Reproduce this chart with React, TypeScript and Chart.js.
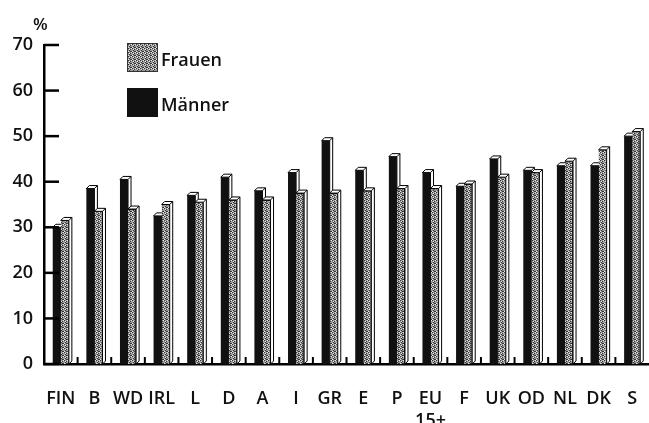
import React, { useEffect, useRef } from "react";
import { Chart, registerables } from "chart.js";

Chart.register(...registerables);

// ---- data ----
const categories: (string | string[])[] = [
  "FIN", "B", "WD", "IRL", "L", "D", "A", "I", "GR", "E", "P",
  ["EU", "15+"], "F", "UK", "OD", "NL", "DK", "S",
];
const maenner = [30, 38.5, 40.5, 32.5, 37, 41, 38, 42, 49, 42.5, 45.5, 42, 39, 45, 42.5, 43.5, 43.5, 50];
const frauen = [31.5, 33.5, 34, 35, 35.5, 36, 36, 37.5, 37.5, 38, 38.5, 38.5, 39.5, 41, 42, 44.5, 47, 51];
const yTicks = [0, 10, 20, 30, 40, 50, 60, 70];
const seriesNames = ["Männer", "Frauen"];
const unitLabel = "%";

const FONT = "'Open Sans', 'DejaVu Sans', sans-serif";
const WEIGHT = "600";
const DEPTH = 3;

function makePattern(): CanvasPattern | string {
  const c = document.createElement("canvas");
  c.width = 4;
  c.height = 4;
  const g = c.getContext("2d");
  if (!g) return "#999";
  g.fillStyle = "#9c9c9c";
  g.fillRect(0, 0, 4, 4);
  g.fillStyle = "#333";
  [[0, 0], [2, 1], [1, 2], [3, 3], [2, 3]].forEach(([x, y]) => g.fillRect(x, y, 1, 1));
  g.fillStyle = "#e6e6e6";
  [[3, 0], [1, 1], [0, 3]].forEach(([x, y]) => g.fillRect(x, y, 1, 1));
  return g.createPattern(c, "repeat") || "#999";
}

function draw3d(ctx: CanvasRenderingContext2D, el: any) {
  const { x, y, base, width } = el.getProps(["x", "y", "base", "width"], true);
  const l = x - width / 2;
  const r = x + width / 2;
  ctx.save();
  ctx.fillStyle = "#fff";
  ctx.strokeStyle = "#000";
  ctx.lineWidth = 1;
  ctx.beginPath();
  ctx.moveTo(l, y);
  ctx.lineTo(l + DEPTH, y - DEPTH);
  ctx.lineTo(r + DEPTH, y - DEPTH);
  ctx.lineTo(r + DEPTH, base - DEPTH);
  ctx.lineTo(r, base);
  ctx.lineTo(r, y);
  ctx.closePath();
  ctx.fill();
  ctx.stroke();
  ctx.beginPath();
  ctx.moveTo(r, y);
  ctx.lineTo(r + DEPTH, y - DEPTH);
  ctx.stroke();
  ctx.restore();
}

export default function App() {
  const ref = useRef<HTMLCanvasElement | null>(null);

  useEffect(() => {
    document.body.style.margin = "0";
    const canvas = ref.current;
    if (!canvas) return;
    const pattern = makePattern();

    const decor = {
      id: "decor",
      beforeDatasetsDraw(chart: any) {
        const ctx = chart.ctx;
        chart.getDatasetMeta(0).data.forEach((el: any) => draw3d(ctx, el));
      },
      afterDatasetsDraw(chart: any) {
        const ctx = chart.ctx as CanvasRenderingContext2D;
        chart.getDatasetMeta(1).data.forEach((el: any) => draw3d(ctx, el));
        const area = chart.chartArea;
        const ys = chart.scales.y;
        const xs = chart.scales.x;
        ctx.save();
        ctx.strokeStyle = "#000";
        ctx.lineWidth = 2.5;
        yTicks.forEach((v) => {
          const py = ys.getPixelForValue(v);
          ctx.beginPath();
          ctx.moveTo(area.left, py);
          ctx.lineTo(area.left + 15, py);
          ctx.stroke();
        });
        ctx.lineWidth = 2;
        for (let i = 0; i < categories.length - 1; i++) {
          const px = (xs.getPixelForValue(i) + xs.getPixelForValue(i + 1)) / 2;
          ctx.beginPath();
          ctx.moveTo(px, area.bottom);
          ctx.lineTo(px, area.bottom - 7);
          ctx.stroke();
        }
        ctx.restore();
      },
      afterDraw(chart: any) {
        const ctx = chart.ctx as CanvasRenderingContext2D;
        ctx.save();
        ctx.fillStyle = "#111";
        ctx.font = `${WEIGHT} 17px ${FONT}`;
        ctx.textBaseline = "alphabetic";
        ctx.fillText(unitLabel, 33, 30);
        // legend (Frauen first, then Männer)
        ctx.fillStyle = pattern as any;
        ctx.fillRect(127, 43, 31, 29);
        ctx.strokeStyle = "#333";
        ctx.lineWidth = 1;
        ctx.strokeRect(127.5, 43.5, 30, 28);
        ctx.fillStyle = "#111";
        ctx.fillRect(127, 88, 31, 29);
        ctx.font = `${WEIGHT} 18px ${FONT}`;
        ctx.fillStyle = "#111";
        ctx.fillText(seriesNames[1], 161, 66);
        ctx.fillText(seriesNames[0], 161, 111);
        ctx.restore();
      },
    };

    const chart = new Chart(canvas, {
      type: "bar",
      data: {
        labels: categories as any,
        datasets: [
          {
            label: seriesNames[0],
            data: maenner,
            backgroundColor: "#111",
            borderColor: "#000",
            borderWidth: 0,
            categoryPercentage: 0.48,
            barPercentage: 1.0,
          },
          {
            label: seriesNames[1],
            data: frauen,
            backgroundColor: pattern as any,
            borderColor: "#222",
            borderWidth: { left: 0, right: 1, top: 1, bottom: 0 } as any,
            categoryPercentage: 0.48,
            barPercentage: 1.0,
          },
        ],
      },
      options: {
        animation: false,
        responsive: false,
        maintainAspectRatio: false,
        layout: { padding: { top: 45, left: 0, right: 0, bottom: 0 } },
        plugins: {
          legend: { display: false },
          tooltip: { enabled: false },
        },
        scales: {
          x: {
            offset: true,
            grid: { display: false, drawTicks: false },
            border: { display: true, color: "#000", width: 2.5 },
            ticks: {
              color: "#111",
              font: { family: FONT, size: 18, weight: WEIGHT as any },
              padding: 24,
              maxRotation: 0,
              autoSkip: false,
            },
            afterFit: (s: any) => {
              s.height = 59;
              s.paddingLeft = 0;
              s.paddingRight = 0;
            },
          },
          y: {
            min: 0,
            max: 70,
            grid: { display: false, drawTicks: false },
            border: { display: true, color: "#000", width: 2.5 },
            ticks: {
              stepSize: 10,
              color: "#111",
              font: { family: FONT, size: 18, weight: WEIGHT as any },
              padding: 11,
            },
            afterFit: (s: any) => {
              s.width = 44;
            },
          },
        },
      },
      plugins: [decor],
    });

    return () => chart.destroy();
  }, []);

  return (
    <div style={{ width: 649, height: 423, position: "relative", background: "#fff" }}>
      <canvas ref={ref} width={649} height={423} style={{ display: "block" }} />
    </div>
  );
}
